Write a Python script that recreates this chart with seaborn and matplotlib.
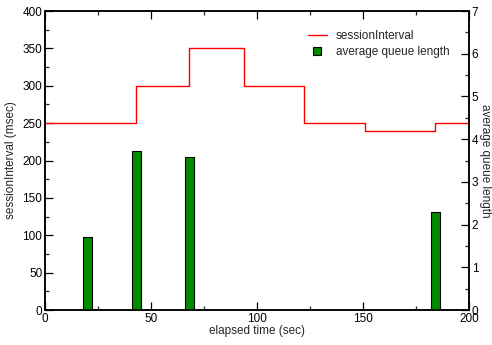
import matplotlib
matplotlib.use("Agg")
import matplotlib.pyplot as plt
import seaborn as sns
import pandas as pd
from matplotlib.ticker import MultipleLocator
from matplotlib.lines import Line2D

# data
step_times = [0, 43, 68, 94, 122, 151, 184, 200]
session_interval = [250, 300, 350, 300, 250, 240, 250, 250]
bar_times = [20, 43, 68, 184]
avg_queue = [1.72, 3.72, 3.59, 2.29]

sns.set_theme(style="white")
plt.rcParams["font.family"] = ["Liberation Sans", "DejaVu Sans"]

fig = plt.figure(figsize=(4.92, 3.45), dpi=100)
ax = fig.add_axes([0.0915, 0.1014, 0.8618, 0.8666])
ax2 = ax.twinx()

line_df = pd.DataFrame({"t": step_times, "v": session_interval})
sns.lineplot(data=line_df, x="t", y="v", ax=ax, color="red", linewidth=1.0,
             drawstyle="steps-post", legend=False)

bar_df = pd.DataFrame({"t": bar_times, "q": avg_queue})
sns.barplot(data=bar_df, x="t", y="q", ax=ax2, native_scale=True, orient="x",
            color="#008b00", saturation=1, edgecolor="black", linewidth=0.8,
            width=4.3 / 23, legend=False)

ax.set_xlim(0, 200)
ax.set_ylim(0, 400)
ax2.set_xlim(0, 200)
ax2.set_ylim(0, 7)

ax.xaxis.set_major_locator(MultipleLocator(50))
ax.xaxis.set_minor_locator(MultipleLocator(25))
ax.yaxis.set_major_locator(MultipleLocator(50))
ax.yaxis.set_minor_locator(MultipleLocator(25))
ax2.yaxis.set_major_locator(MultipleLocator(1))
ax2.yaxis.set_minor_locator(MultipleLocator(0.5))

fs = 8.5
ax.tick_params(axis="both", which="major", direction="in", length=5.5, width=0.9,
               labelsize=fs, colors="black", top=True, bottom=True, left=True, right=False, pad=2)
ax.tick_params(axis="both", which="minor", direction="in", length=3, width=0.9,
               top=True, bottom=True, left=True, right=False)
ax2.tick_params(axis="y", which="major", direction="in", length=5.5, width=0.9,
                labelsize=fs, colors="black", right=True, left=False, pad=2)
ax2.tick_params(axis="y", which="minor", direction="in", length=3, width=0.9,
                right=True, left=False)

for a in (ax, ax2):
    for s in a.spines.values():
        s.set_color("black")
        s.set_linewidth(1.1)

ax.set_xlabel("elapsed time (sec)", fontsize=fs, labelpad=0)
ax.set_ylabel("sessionInterval (msec)", fontsize=fs, labelpad=4)
ax2.set_ylabel("average queue length", fontsize=fs, rotation=270, labelpad=9)

handles = [Line2D([0], [0], color="red", linewidth=1.0),
           Line2D([0], [0], linestyle="none", marker="s", markersize=6,
                  markerfacecolor="#008b00", markeredgecolor="black", markeredgewidth=0.8)]
ax2.legend(handles, ["sessionInterval", "average queue length"], loc="upper left",
           bbox_to_anchor=(0.6, 0.965), frameon=False, fontsize=fs,
           handlelength=1.6, handletextpad=0.8, labelspacing=0.35,
           borderpad=0.2)

fig.savefig("out.png", dpi=100)
